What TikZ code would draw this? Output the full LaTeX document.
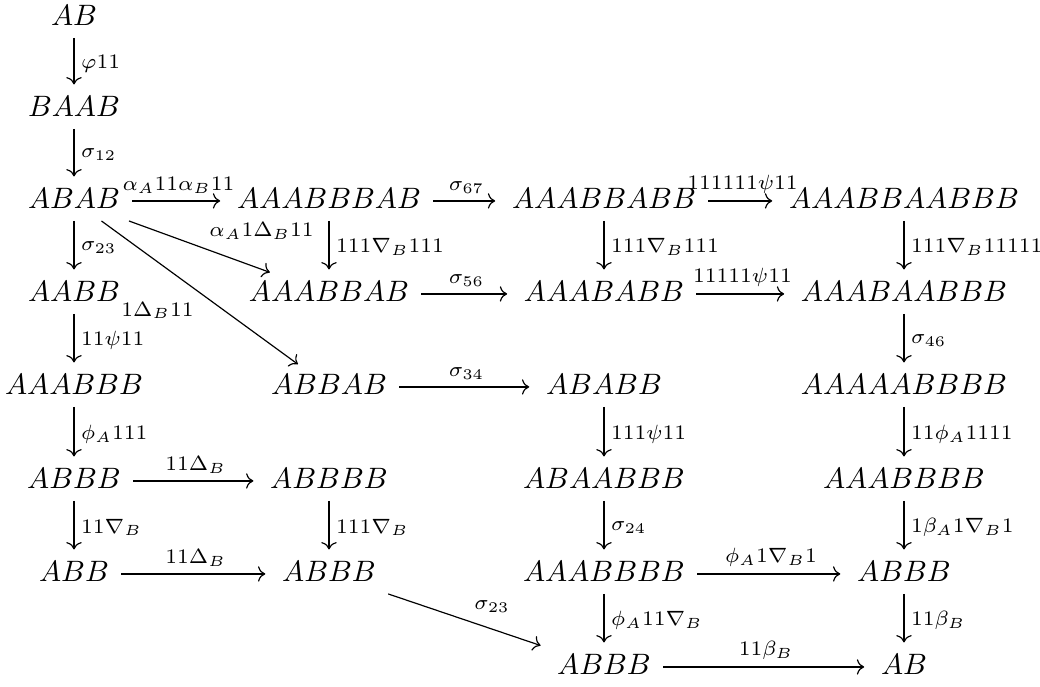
\documentclass[tikz,border=0pt]{standalone}
\usetikzlibrary{arrows.meta}
\begin{document}
\begin{tikzpicture}[x=0.339pt, y=-0.339pt,
  obj/.style={anchor=base, text height=9pt, text depth=4.2pt, inner xsep=4pt, inner ysep=0pt},
  ar/.style={-{Computer Modern Rightarrow}, line width=0.4pt, shorten >=1.5pt},
  lr/.style={midway, right, inner sep=2.2pt},
  la/.style={midway, above, inner sep=2.2pt},
  lne/.style={midway, anchor=north east, inner sep=2.5pt},
  lsw/.style={midway, anchor=south west, inner sep=2.5pt}]
\useasboundingbox (0,0) rectangle (1040,686);

% objects, placed by column centre and baseline
\node[obj] (n00) at (74,25)  {$AB$};
\node[obj] (n10) at (74,116) {$BAAB$};
\node[obj] (n20) at (74,208)  {$ABAB$};
\node[obj] (n21) at (329,208) {$AAABBBAB$};
\node[obj] (n22) at (604,208) {$AAABBABB$};
\node[obj] (n23) at (904,208) {$AAABBAABBB$};
\node[obj] (n30) at (74,301)  {$AABB$};
\node[obj] (n31) at (329,301) {$AAABBAB$};
\node[obj] (n32) at (604,301) {$AAABABB$};
\node[obj] (n33) at (904,301) {$AAABAABBB$};
\node[obj] (n40) at (74,394)  {$AAABBB$};
\node[obj] (n41) at (329,394) {$ABBAB$};
\node[obj] (n42) at (604,394) {$ABABB$};
\node[obj] (n43) at (904,394) {$AAAAABBBB$};
\node[obj] (n50) at (74,488)  {$ABBB$};
\node[obj] (n51) at (329,488) {$ABBBB$};
\node[obj] (n52) at (604,488) {$ABAABBB$};
\node[obj] (n53) at (904,488) {$AAABBBB$};
\node[obj] (n60) at (74,581)  {$ABB$};
\node[obj] (n61) at (329,581) {$ABBB$};
\node[obj] (n62) at (604,581) {$AAABBBB$};
\node[obj] (n63) at (904,581) {$ABBB$};
\node[obj] (n72) at (604,674) {$ABBB$};
\node[obj] (n73) at (904,674) {$AB$};

% morphisms
\draw[ar] (n00) -- node[lr] {$\scriptstyle \varphi11$} (n10);
\draw[ar] (n10) -- node[lr] {$\scriptstyle \sigma_{12}$} (n20);
\draw[ar] (n20) -- node[la] {$\scriptstyle \alpha_A11\alpha_B11$} (n21);
\draw[ar] (n20) -- node[lr] {$\scriptstyle \sigma_{23}$} (n30);
\draw[ar] (n20) -- node[lsw] {$\scriptstyle \alpha_A1\Delta_B11$} (n31);
\draw[ar] (n20) -- node[lne] {$\scriptstyle 1\Delta_B11$} (n41);
\draw[ar] (n21) -- node[la] {$\scriptstyle \sigma_{67}$} (n22);
\draw[ar] (n21) -- node[lr] {$\scriptstyle 111\nabla_B111$} (n31);
\draw[ar] (n22) -- node[la] {$\scriptstyle 111111\psi11$} (n23);
\draw[ar] (n22) -- node[lr] {$\scriptstyle 111\nabla_B111$} (n32);
\draw[ar] (n23) -- node[lr] {$\scriptstyle 111\nabla_B11111$} (n33);
\draw[ar] (n30) -- node[lr] {$\scriptstyle 11\psi11$} (n40);
\draw[ar] (n31) -- node[la] {$\scriptstyle \sigma_{56}$} (n32);
\draw[ar] (n32) -- node[la] {$\scriptstyle 11111\psi11$} (n33);
\draw[ar] (n33) -- node[lr] {$\scriptstyle \sigma_{46}$} (n43);
\draw[ar] (n40) -- node[lr] {$\scriptstyle \phi_A111$} (n50);
\draw[ar] (n41) -- node[la] {$\scriptstyle \sigma_{34}$} (n42);
\draw[ar] (n42) -- node[lr] {$\scriptstyle 111\psi11$} (n52);
\draw[ar] (n43) -- node[lr] {$\scriptstyle 11\phi_A1111$} (n53);
\draw[ar] (n50) -- node[la] {$\scriptstyle 11\Delta_B$} (n51);
\draw[ar] (n50) -- node[lr] {$\scriptstyle 11\nabla_B$} (n60);
\draw[ar] (n51) -- node[lr] {$\scriptstyle 111\nabla_B$} (n61);
\draw[ar] (n52) -- node[lr] {$\scriptstyle \sigma_{24}$} (n62);
\draw[ar] (n53) -- node[lr] {$\scriptstyle 1\beta_A1\nabla_B1$} (n63);
\draw[ar] (n60) -- node[la] {$\scriptstyle 11\Delta_B$} (n61);
\draw[ar] (n61) -- node[lsw] {$\scriptstyle \sigma_{23}$} (n72);
\draw[ar] (n62) -- node[la] {$\scriptstyle \phi_A1\nabla_B1$} (n63);
\draw[ar] (n62) -- node[lr] {$\scriptstyle \phi_A11\nabla_B$} (n72);
\draw[ar] (n63) -- node[lr] {$\scriptstyle 11\beta_B$} (n73);
\draw[ar] (n72) -- node[la] {$\scriptstyle 11\beta_B$} (n73);
\end{tikzpicture}
\end{document}
